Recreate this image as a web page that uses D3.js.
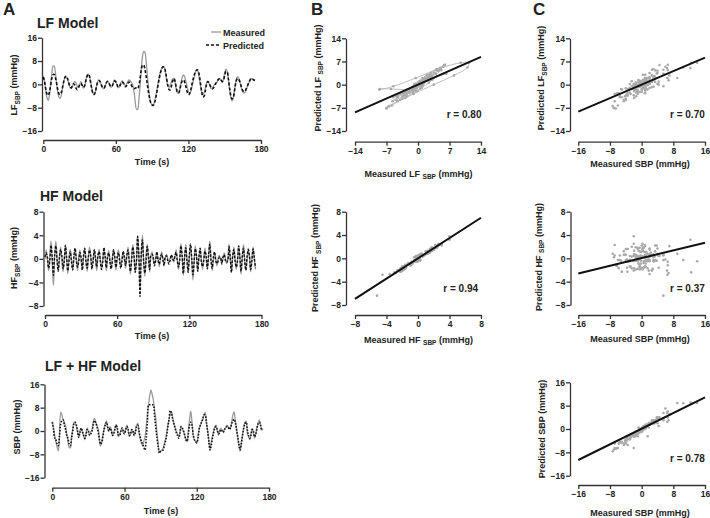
<!DOCTYPE html>
<html>
<head>
<meta charset="utf-8">
<script src="https://cdnjs.cloudflare.com/ajax/libs/d3/7.8.5/d3.min.js"></script>
<style>
body{margin:0;background:#fff}
text{font-family:"Liberation Sans",Arial,sans-serif;font-weight:bold;fill:#222}
</style>
</head>
<body>
<div id="chart"></div>
<script>
// one value per second, t = 0..175 s
var lfMeasured = [
3.0,1.2,-2.0,-4.6,-5.5,-4.0,-0.5,3.5,6.2,6.3,
4.0,0.5,-2.8,-4.5,-4.8,-3.5,-1.2,1.0,2.4,2.6,
1.8,0.3,-1.0,-1.5,-0.8,0.4,1.0,0.5,-0.5,-1.0,
-0.2,0.9,0.2,-1.3,-0.8,1.0,2.8,3.6,3.0,1.0,
-1.3,-3.0,-3.5,-2.5,-0.6,1.0,1.5,1.0,-0.2,-1.2,
-1.5,-0.8,0.5,1.2,0.8,-0.2,-1.0,-0.6,0.6,1.5,
1.0,-0.2,-1.2,-0.8,0.4,1.2,0.8,0.0,-0.5,0.2,
1.1,1.5,1.2,0.6,-0.3,-2.5,-6.0,-8.5,-8.6,-5.5,
-0.5,5.0,9.5,11.3,11.0,8.0,3.5,-1.0,-4.5,-6.5,
-7.0,-7.0,-5.8,-4.0,-1.8,0.5,2.8,4.5,5.6,6.0,
5.8,4.0,1.5,-0.5,-1.0,-0.2,1.0,1.9,2.0,0.5,
-1.8,-3.0,-2.8,-1.2,0.8,2.6,3.2,2.4,0.8,-1.0,
-2.4,-3.0,-2.4,-0.8,1.0,2.8,4.3,4.9,4.2,2.0,
-0.5,-2.6,-3.5,-2.8,-1.2,0.4,1.0,0.4,-0.8,-1.5,
-1.2,-0.4,0.2,0.5,1.0,1.7,2.0,1.3,0.6,1.8,
4.0,5.2,4.6,2.0,-1.5,-4.5,-5.7,-4.8,-2.2,0.5,
2.2,2.6,1.8,0.2,-1.6,-2.7,-3.0,-2.6,-1.6,-0.4,
0.6,1.5,2.0,1.9,1.6,1.4]

var lfPredicted = [
2.5,1.0,-1.5,-3.3,-3.8,-2.8,-0.5,2.0,3.3,3.4,
2.3,0.3,-2.0,-3.3,-3.5,-2.6,-0.8,1.2,2.5,2.8,
2.0,0.6,-0.6,-1.2,-0.6,0.2,-0.2,-1.2,-1.8,-1.2,
-0.2,0.3,-0.3,-1.0,-0.6,0.9,2.6,3.5,3.0,1.0,
-1.3,-3.0,-3.5,-2.6,-0.8,0.8,1.3,0.9,-0.2,-1.0,
-1.3,-0.7,0.4,1.0,0.6,-0.2,-0.8,-0.5,0.5,1.2,
0.8,-0.2,-1.0,-0.7,0.2,0.8,0.5,-0.3,-0.8,-0.4,
0.4,0.8,0.4,-0.4,-1.1,-1.5,-1.3,-1.3,-1.5,-0.5,
2.0,5.0,6.6,6.6,5.2,2.8,0.0,-2.8,-5.0,-6.5,
-7.1,-7.2,-6.3,-4.6,-2.4,0.0,2.3,4.2,5.4,6.0,
5.9,4.5,2.0,-0.5,-1.8,-1.9,-0.5,1.2,2.0,1.0,
-1.2,-2.8,-2.9,-1.6,0.2,1.3,1.5,0.6,-1.0,-2.6,
-3.5,-3.2,-1.8,0.2,2.0,3.5,4.5,5.0,4.7,3.0,
0.2,-2.6,-4.3,-4.0,-2.2,0.0,1.0,0.6,-0.4,-1.3,
-1.5,-1.0,-0.2,0.6,1.3,1.8,2.0,1.5,1.0,1.4,
3.2,4.4,4.3,2.0,-1.2,-3.8,-5.0,-4.6,-2.4,0.2,
1.7,2.0,1.4,0.2,-1.2,-2.2,-2.5,-2.2,-1.3,-0.3,
0.6,1.5,2.0,1.8,1.5,1.3]

var hfMeasured = [
0.0,1.5,-0.2,-2.0, 0.3,3.0,-0.5,-4.5, 0.2,3.0,0.3,-2.0, -0.2,2.0,0.2,-2.2, 0.1,2.2,-0.3,-2.5,
0.2,1.6,0.0,-1.8, -0.2,1.8,0.2,-2.0, 0.0,1.5,-0.3,-1.8, 0.2,1.7,0.1,-2.1, -0.1,2.0,0.3,-1.8,
0.0,1.5,-0.2,-2.0, 0.2,1.6,0.0,-1.7, -0.2,1.8,0.2,-2.0, 0.1,1.4,-0.1,-1.6, 0.2,1.6,0.0,-1.9,
-0.1,1.5,0.2,-1.5, 0.0,1.2,-0.2,-1.6, 0.3,2.0,-0.2,-2.6, 0.2,2.4,0.3,-2.2, -0.4,4.0,0.5,-5.2,
0.4,4.0,-0.3,-3.0, 0.2,2.5,0.0,-2.2, 0.3,1.2,-0.2,-0.9, 0.1,1.0,0.1,-1.3, -0.1,1.2,0.2,-1.0,
0.0,0.8,0.1,-0.7, 0.1,0.4,-0.1,-0.5, 0.2,1.5,-0.1,-1.8, 0.2,2.6,0.3,-2.8, -0.2,2.4,0.1,-2.2,
0.2,2.6,-0.3,-3.6, -0.2,2.2,0.2,-2.0, 0.0,1.7,-0.2,-1.8, 0.2,1.8,0.0,-1.6, 0.3,3.0,0.2,-2.0,
-0.1,1.0,0.0,-1.2, 0.1,0.6,-0.1,-0.7, 0.0,1.0,0.1,-0.8, 0.2,2.5,-0.2,-2.2, 0.1,2.0,0.2,-1.8,
-0.1,2.2,0.0,-2.6, 0.2,2.4,0.1,-2.0, -0.2,1.8,0.2,-2.2, 0.1,2.0,-0.1,-1.8]

var hfPredicted = [
0.3,1.0,0.3,-1.6, -0.3,2.3,0.2,-2.8, 0.6,2.2,-0.3,-2.1, 0.3,1.6,0.5,-1.7, -0.4,2.3,0.2,-2.0,
-0.2,1.2,-0.5,-1.9, 0.4,1.8,-0.2,-1.4, -0.5,1.1,0.3,-1.9, 0.5,1.8,-0.4,-1.6, 0.3,1.5,0.6,-1.7,
-0.4,1.6,0.2,-1.4, 0.6,1.2,-0.4,-1.8, -0.5,1.9,0.4,-1.5, 0.4,1.0,-0.5,-1.7, -0.3,1.5,0.4,-1.4,
0.3,1.1,-0.3,-1.6, -0.4,1.3,0.3,-1.1, 0.6,1.5,-0.5,-2.1, -0.2,2.0,0.6,-2.3, -0.6,3.8,0.8,-6.4,
0.8,3.2,-0.5,-2.4, -0.3,2.1,0.4,-1.8, 0.6,0.8,0.2,-1.2, -0.3,1.2,-0.3,-0.9, 0.3,0.8,-0.2,-1.2,
0.4,0.5,-0.3,-0.9, -0.3,0.7,0.2,-0.3, 0.5,1.1,-0.4,-1.4, -0.2,2.2,0.6,-2.5, 0.3,1.9,-0.3,-2.3,
0.6,2.5,0.1,-2.7, -0.5,1.7,0.5,-2.1, 0.4,1.8,-0.5,-1.3, -0.3,1.3,0.4,-1.7, 0.7,2.5,-0.2,-1.6,
0.3,1.2,-0.4,-0.8, -0.3,0.3,0.2,-0.9, 0.3,0.7,-0.3,-0.6, -0.3,2.1,0.4,-2.3, 0.5,1.6,-0.3,-1.4,
-0.5,2.2,0.4,-2.1, 0.4,1.8,-0.4,-1.9, 0.3,1.6,0.5,-1.8, -0.4,1.7,0.2,-1.5]

var sbpMeasured = [
3.2,1.2,-1.5,-3.7,-5.5,-6.8,-1.0,6.5,5.5,3.8,
3.0,1.8,-1.0,-3.5,-5.5,-5.8,-2.0,0.8,3.0,2.6,
1.8,-0.5,-2.0,0.2,1.0,-0.5,-1.6,-3.0,-1.0,1.1,
-0.2,-1.4,-0.3,0.5,3.0,4.3,3.2,2.0,0.9,-2.5,
-5.2,-3.8,-1.4,0.8,2.5,3.4,1.0,-0.2,1.5,0.5,
-1.4,-0.5,1.0,2.3,0.5,-1.9,-1.0,0.2,0.9,-0.5,
-0.8,0.8,2.0,0.5,-1.9,-0.8,0.3,-0.5,-1.4,0.2,
2.0,2.6,-0.5,-2.5,-4.0,-5.0,-3.5,-2.0,1.5,5.5,
9.0,12.3,14.0,12.5,10.5,7.0,4.3,-1.0,-4.5,-7.3,
-7.0,-6.5,-6.0,-4.5,-3.0,-0.8,2.0,4.0,6.0,6.6,
4.5,2.6,1.2,-0.2,-1.0,-1.9,-0.5,1.5,0.8,-0.2,
-1.5,-2.8,-3.7,0.0,4.0,6.8,3.2,-1.5,-3.0,-3.6,
-4.2,-2.0,0.9,2.0,3.2,4.0,5.5,6.4,3.0,0.3,
-3.0,-6.2,-4.0,-1.9,0.0,1.5,2.0,0.2,-1.4,0.0,
0.9,0.4,-0.2,0.5,1.2,2.0,1.5,1.0,1.1,3.0,
5.5,6.6,3.5,0.9,-2.0,-5.0,-6.8,-4.0,-1.4,1.0,
3.0,3.4,-0.8,-2.0,-3.0,-1.0,0.9,-0.5,-2.5,-1.0,
1.0,2.8,3.8,2.0,0.3,0.8]

var sbpPredicted = [
3.0,0.5,-2.5,-3.0,-4.5,-5.0,-1.5,2.5,3.5,3.8,
2.0,0.5,-1.5,-2.5,-4.5,-5.0,-2.5,0.0,2.5,3.0,
2.0,0.0,-2.2,-0.5,1.0,0.0,-1.5,-2.5,-1.5,0.5,
0.0,-1.5,-1.0,0.0,2.0,3.5,3.0,1.5,0.0,-2.5,
-4.5,-4.0,-2.0,0.5,2.0,3.0,1.5,0.0,1.0,0.0,
-1.5,-1.0,0.5,2.0,1.0,-1.5,-1.5,0.0,1.0,0.0,
-1.0,0.5,1.5,0.5,-1.5,-1.0,0.5,0.0,-1.5,-0.5,
1.5,2.0,0.0,-2.0,-3.5,-4.5,-5.5,-6.5,-2.5,3.0,
8.9,9.0,8.9,9.0,8.8,5.0,1.0,-2.5,-5.5,-7.6,
-7.0,-6.8,-6.5,-5.0,-3.5,-1.5,1.5,4.0,7.0,6.0,
4.0,2.5,1.0,-0.5,-1.5,-2.5,-1.0,1.5,1.0,0.0,
-1.5,-3.0,-3.5,-1.0,2.0,3.0,2.0,-1.0,-3.0,-3.5,
-4.0,-2.5,0.5,2.0,3.0,4.0,5.5,5.5,3.0,0.0,
-3.5,-6.5,-5.0,-2.5,-0.5,1.0,1.5,0.5,-1.0,-0.5,
0.5,0.0,-0.5,0.5,1.0,1.5,1.5,0.5,1.0,2.5,
3.5,4.0,3.0,0.5,-2.0,-4.5,-6.5,-4.5,-1.5,1.0,
2.5,3.0,0.5,-1.5,-2.5,-1.5,0.5,0.0,-2.0,-1.0,
1.0,2.5,3.0,2.0,0.5,0.8]

var timeTicks = [0, 60, 120, 180]
var ticks16 = [-16, -8, 0, 8, 16]
var ticks14 = [-14, -7, 0, 7, 14]
var ticks8 = [-8, -4, 0, 4, 8]

// regression lines: B-LF, B-HF, C-LF, C-HF, C-SBP
var fitSlope = [0.60, 0.87, 0.51, 0.165, 0.67]
var fitIntercept = [0, 0, 0, 0.05, 0.1]
var rValues = ['0.80', '0.94', '0.70', '0.37', '0.78']

var svg = d3.select('#chart').append('svg')
  .attr('width', 710)
  .attr('height', 518)

function makePanel(cfg){
  var x = d3.scaleLinear().domain(cfg.xd).range(cfg.xr)
  var y = d3.scaleLinear().domain(cfg.yd).range(cfg.yr)
  var g = svg.append('g')
  g.append('g')
    .attr('transform', 'translate(0,' + cfg.ax + ')')
    .call(d3.axisBottom(x).tickValues(cfg.xt).tickSize(4).tickSizeOuter(0).tickPadding(2))
  g.append('g')
    .attr('transform', 'translate(' + cfg.ay + ',0)')
    .call(d3.axisLeft(y).tickValues(cfg.yt).tickSize(4).tickSizeOuter(0).tickPadding(1))
  g.selectAll('.domain, .tick line').attr('stroke', '#333').attr('stroke-width', 1.3)
  g.selectAll('.tick text').attr('font-size', 8.5)
  return {g: g, x: x, y: y}
}

function label(x, y, parts, rotate){
  var t = svg.append('text')
    .attr('text-anchor', 'middle')
    .attr('font-size', 9)
    .attr('transform', 'translate(' + x + ',' + y + ')' + (rotate ? ' rotate(-90)' : ''))
  var sub = false
  parts.forEach(function(p){
    var s = t.append('tspan').text(p[0])
    if(p[1]){
      s.attr('font-size', 6.5).attr('dy', sub ? 0 : 2.5)
    }else{
      s.attr('dy', sub ? -2.5 : 0)
    }
    sub = p[1]
  })
}

function title(x, y, txt, size){
  svg.append('text').attr('x', x).attr('y', y).attr('font-size', size).text(txt)
}

function timeSeries(p, series, color, width, dash){
  var line = d3.line()
    .x(function(d, i){ return p.x(i) })
    .y(function(d){ return p.y(d) })
    .curve(d3.curveCatmullRom)
  p.g.append('path')
    .datum(series)
    .attr('fill', 'none')
    .attr('stroke', color)
    .attr('stroke-width', width)
    .attr('stroke-dasharray', dash)
    .attr('d', line)
}

function scatter(p, xs, ys, k, rx, ry, trace){
  var pts = xs.map(function(v, i){ return [v, ys[i]] })
  if(trace){
    p.g.append('path')
      .datum(pts)
      .attr('fill', 'none')
      .attr('stroke', '#b8b8b8')
      .attr('stroke-width', 0.9)
      .attr('d', d3.line()
        .x(function(d){ return p.x(d[0]) })
        .y(function(d){ return p.y(d[1]) })
        .curve(d3.curveCatmullRom))
  }
  p.g.append('g').selectAll('circle')
    .data(pts)
    .enter().append('circle')
    .attr('cx', function(d){ return p.x(d[0]) })
    .attr('cy', function(d){ return p.y(d[1]) })
    .attr('r', 1.3)
    .attr('fill', '#aaa')
  var xd = p.x.domain()
  p.g.append('line')
    .attr('x1', p.x(xd[0])).attr('y1', p.y(fitSlope[k] * xd[0] + fitIntercept[k]))
    .attr('x2', p.x(xd[1])).attr('y2', p.y(fitSlope[k] * xd[1] + fitIntercept[k]))
    .attr('stroke', '#111')
    .attr('stroke-width', 2)
  p.g.append('text')
    .attr('x', rx).attr('y', ry)
    .attr('font-size', 10)
    .text('r = ' + rValues[k])
}

// column A
title(3, 15, 'A', 17)
title(37, 28, 'LF Model', 14)
var a1 = makePanel({xd: [0, 180], xr: [43.3, 261], yd: [-16, 16], yr: [131, 37.7], ax: 140, ay: 42, xt: timeTicks, yt: ticks16})
timeSeries(a1, lfMeasured, '#9a9a9a', 1.3, null)
timeSeries(a1, lfPredicted, '#111', 1.6, '3,2')
label(17, 85, [['LF', false], ['SBP', true], [' (mmHg)', false]], true)
label(152, 165, [['Time (s)', false]])

svg.append('line').attr('x1', 211).attr('x2', 221).attr('y1', 32).attr('y2', 32)
  .attr('stroke', '#9a9a9a').attr('stroke-width', 1.3)
svg.append('line').attr('x1', 206).attr('x2', 221).attr('y1', 45).attr('y2', 45)
  .attr('stroke', '#111').attr('stroke-width', 1.6).attr('stroke-dasharray', '3,2')
title(223, 35.5, 'Measured', 9)
title(223, 48.5, 'Predicted', 9)

title(40, 200.5, 'HF Model', 14)
var a2 = makePanel({xd: [0, 180], xr: [45, 261.5], yd: [-8, 8], yr: [306, 211.7], ax: 315, ay: 43.5, xt: timeTicks, yt: ticks8})
timeSeries(a2, hfMeasured, '#9a9a9a', 1.3, null)
timeSeries(a2, hfPredicted, '#111', 1.4, '2.5,1.5')
label(17, 258, [['HF', false], ['SBP', true], [' (mmHg)', false]], true)
label(152, 339, [['Time (s)', false]])

title(45, 370.5, 'LF + HF Model', 14)
var a3 = makePanel({xd: [0, 180], xr: [52.3, 269], yd: [-16, 16], yr: [477.7, 384.3], ax: 487.7, ay: 44.5, xt: timeTicks, yt: ticks16})
timeSeries(a3, sbpMeasured, '#9a9a9a', 1.3, null)
timeSeries(a3, sbpPredicted, '#111', 1.6, '1.5,1.5')
label(19.5, 427, [['SBP (mmHg)', false]], true)
label(161, 514, [['Time (s)', false]])

// column B
title(311, 15, 'B', 17)
var b1 = makePanel({xd: [-14, 14], xr: [355, 481], yd: [-14, 14], yr: [131, 38.3], ax: 141.7, ay: 346, xt: ticks14, yt: ticks14})
scatter(b1, lfMeasured, lfPredicted, 0, 446.7, 118, true)
label(320.5, 78, [['Predicted LF ', false], ['SBP', true], [' (mmHg)', false]], true)
label(418.5, 176.5, [['Measured LF ', false], ['SBP', true], [' (mmHg)', false]])

var b2 = makePanel({xd: [-8, 8], xr: [355, 481], yd: [-8, 8], yr: [305, 211.7], ax: 315, ay: 346, xt: ticks8, yt: ticks8})
scatter(b2, hfMeasured, hfPredicted, 1, 443.3, 291.5, false)
label(318, 258, [['Predicted HF ', false], ['SBP', true], [' (mmHg)', false]], true)
label(418.5, 342.5, [['Measured HF ', false], ['SBP', true], [' (mmHg)', false]])

// column C
title(533, 15, 'C', 17)
var c1 = makePanel({xd: [-16, 16], xr: [578.3, 705], yd: [-14, 14], yr: [131, 38.3], ax: 141.7, ay: 570, xt: ticks16, yt: ticks14})
scatter(c1, sbpMeasured, lfPredicted, 2, 670, 118, false)
label(544, 78, [['Predicted LF', false], ['SBP', true], [' (mmHg)', false]], true)
label(640, 166.5, [['Measured SBP (mmHg)', false]])

var c2 = makePanel({xd: [-16, 16], xr: [578.3, 705], yd: [-8, 8], yr: [305, 211.7], ax: 315, ay: 570.5, xt: ticks16, yt: ticks8})
scatter(c2, sbpMeasured, hfPredicted, 3, 670, 291.5, false)
label(541.5, 257, [['Predicted HF ', false], ['SBP', true], [' (mmHg)', false]], true)
label(640, 342, [['Measured SBP (mmHg)', false]])

var c3 = makePanel({xd: [-16, 16], xr: [578.3, 705], yd: [-16, 16], yr: [475.7, 382.3], ax: 485, ay: 570, xt: ticks16, yt: ticks16})
scatter(c3, sbpMeasured, sbpPredicted, 4, 670, 461.5, false)
label(545, 429, [['Predicted SBP (mmHg)', false]], true)
label(640, 515.5, [['Measured SBP (mmHg)', false]])
</script>
</body>
</html>
